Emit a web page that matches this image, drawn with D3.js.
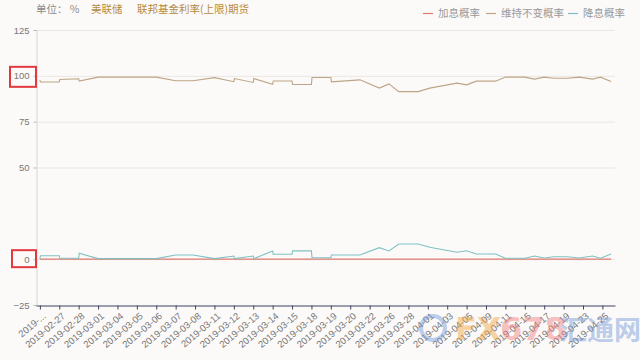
<!DOCTYPE html>
<html>
<head>
<meta charset="utf-8">
<script src="https://cdn.jsdelivr.net/npm/d3@7"></script>
<style>
  body { margin: 0; background: #fcfaf9; }
  svg { display: block; font-family: "Noto Sans CJK SC", "Noto Sans", sans-serif; }
</style>
</head>
<body>
<svg width="640" height="360"></svg>
<script>
// tick labels on the category axis
var dateLabels = ["2019-...", "2019-02-27", "2019-02-28", "2019-03-01", "2019-03-04", "2019-03-05",
  "2019-03-06", "2019-03-07", "2019-03-08", "2019-03-11", "2019-03-12", "2019-03-13", "2019-03-14",
  "2019-03-15", "2019-03-18", "2019-03-19", "2019-03-20", "2019-03-22", "2019-03-26", "2019-03-28",
  "2019-04-01", "2019-04-03", "2019-04-05", "2019-04-09", "2019-04-11", "2019-04-15", "2019-04-17",
  "2019-04-19", "2019-04-23", "2019-04-25"];

// sample positions, in units of the label ticks
var xPos = [0, 0.03, 1, 1.03, 2, 2.03, 3, 6, 7, 7.9, 9, 10, 10.03, 11, 11.03, 12, 12.03, 13, 13.03,
  14, 14.03, 15, 15.03, 16.5, 17.5, 18, 18.5, 19.5, 20.1, 21.5, 22, 22.5, 23.5, 24, 25, 25.5, 26,
  26.5, 27.2, 27.8, 28.5, 28.9, 29.45];

// 加息概率
var hike = [0, 0, 0, 0, 0, 0, 0, 0, 0, 0, 0, 0, 0, 0, 0, 0, 0, 0, 0, 0, 0, 0, 0, 0, 0, 0, 0, 0, 0,
  0, 0, 0, 0, 0, 0, 0, 0, 0, 0, 0, 0, 0, 0];

// 维持不变概率
var hold = [97.8, 96.6, 96.6, 98.0, 98.4, 97.1, 99.3, 99.3, 97.3, 97.3, 99.0, 96.8, 98.5, 96.4, 98.5,
  95.4, 97.2, 97.2, 95.3, 95.3, 99.1, 99.1, 96.7, 97.8, 93.3, 95.6, 91.4, 91.4, 93.3, 96.0, 95.1,
  97.1, 97.1, 99.3, 99.3, 98.2, 99.3, 98.7, 98.7, 99.3, 98.2, 99.3, 96.9];

// 降息概率
var cut = [0, 1.9, 1.9, 0.5, 0.5, 3.2, 0.3, 0.3, 2.3, 2.3, 0.3, 1.7, 0.3, 1.7, 0.3, 4.5, 2.7, 2.7,
  4.5, 4.5, 0.8, 0.8, 2.3, 2.3, 6.3, 4.5, 8.3, 8.3, 6.5, 3.8, 4.6, 2.8, 2.8, 0.5, 0.5, 1.7, 0.6,
  1.3, 1.3, 0.6, 1.7, 0.5, 2.8];

var yTicks = [125, 100, 75, 50, 0, -25],
    gridTicks = [125, 100, 75, 50, 0],
    marked = [100, 0];

var seriesNames = ["加息概率", "维持不变概率", "降息概率"],
    colors = ["#e0786c", "#bea487", "#7fc1c3"];

var svg = d3.select("svg");

var x = d3.scaleLinear()
    .domain([-0.2, 29.65])
    .range([36, 615]);

var y = d3.scaleLinear()
    .domain([-25, 125])
    .range([305, 30]);

// header
var head = svg.append("g").attr("font-size", 10.5);
head.append("text").attr("x", 36).attr("y", 13).attr("fill", "#8a8a8a").text("单位： %");
head.append("text").attr("x", 91).attr("y", 13).attr("fill", "#b78b3c").text("美联储");
head.append("text").attr("x", 137).attr("y", 13).attr("fill", "#b78b3c").text("联邦基金利率(上限)期货");

// legend
var legendX = [423, 486, 568];
var legend = svg.append("g").attr("font-size", 10.5);
seriesNames.forEach(function(name, i) {
  legend.append("line")
      .attr("x1", legendX[i]).attr("x2", legendX[i] + 10)
      .attr("y1", 13.5).attr("y2", 13.5)
      .attr("stroke", colors[i]).attr("stroke-width", 1.2);
  legend.append("text")
      .attr("x", legendX[i] + 15).attr("y", 17)
      .attr("fill", "#999")
      .text(name);
});

// grid
svg.append("g")
  .selectAll("line")
  .data(gridTicks)
  .join("line")
    .attr("x1", x.range()[0]).attr("x2", x.range()[1])
    .attr("y1", function(d) { return y(d) + 0.5; })
    .attr("y2", function(d) { return y(d) + 0.5; })
    .attr("stroke", "#e8e6e4");

// y axis
var yAxis = svg.append("g")
    .attr("transform", "translate(36.5,0)")
    .call(d3.axisLeft(y).tickValues(yTicks).tickSize(3).tickPadding(4));
yAxis.select(".domain").attr("stroke", "#d6d6d6");
yAxis.selectAll(".tick line").attr("stroke", "#bbb");
yAxis.selectAll("text").attr("fill", "#777").attr("font-size", 9.5).attr("font-family", null);

// x axis
var xAxis = svg.append("g")
    .attr("transform", "translate(0," + (y(-25) + 0.5) + ")")
    .call(d3.axisBottom(x)
      .tickValues(d3.range(dateLabels.length))
      .tickFormat(function(i) { return dateLabels[i]; })
      .tickSize(4)
      .tickSizeOuter(0));
xAxis.select(".domain").attr("stroke", "#3a4560").attr("stroke-width", 1);
xAxis.selectAll(".tick line").attr("stroke", "#3a4560");
xAxis.selectAll("text")
    .attr("fill", "#777")
    .attr("font-size", 9.5)
    .attr("font-family", null)
    .attr("text-anchor", "end")
    .attr("x", 0).attr("y", 0).attr("dy", "0.35em")
    .attr("transform", "translate(4,9) rotate(-40)");

// lines
var line = d3.line()
    .x(function(d, i) { return x(xPos[i]); })
    .y(function(d) { return y(d); });

[hike, cut, hold].forEach(function(values, k) {
  var c = [colors[0], colors[2], colors[1]][k];
  svg.append("path")
      .datum(values)
      .attr("fill", "none")
      .attr("stroke", c)
      .attr("stroke-width", 1.1)
      .attr("d", line);
});

// red marker boxes around 100 and 0
svg.append("g")
  .selectAll("rect")
  .data(marked)
  .join("rect")
    .attr("x", function(d) { return d === 100 ? 10 : 12; })
    .attr("y", function(d) { return y(d) - 9; })
    .attr("width", function(d) { return d === 100 ? 26 : 24; })
    .attr("height", function(d) { return d === 100 ? 20 : 17; })
    .attr("fill", "none")
    .attr("stroke", "#e0393e")
    .attr("stroke-width", 2);

// watermark
var wm = svg.append("g").attr("opacity", 0.45).attr("font-weight", "bold");
wm.append("circle").attr("cx", 433).attr("cy", 328).attr("r", 12)
    .attr("fill", "none").attr("stroke", "#6f95d6").attr("stroke-width", 4);
wm.append("text").attr("x", 455).attr("y", 340).attr("font-size", 32)
    .attr("font-family", "DejaVu Sans").attr("fill", "#f0a23a").text("FX");
wm.append("text").attr("x", 500).attr("y", 340).attr("font-size", 32)
    .attr("font-family", "DejaVu Sans").attr("fill", "#ee7b7b").text("678");
wm.append("text").attr("x", 560).attr("y", 340).attr("font-size", 27)
    .attr("fill", "#6f95d6").text("汇通网");
</script>
</body>
</html>
